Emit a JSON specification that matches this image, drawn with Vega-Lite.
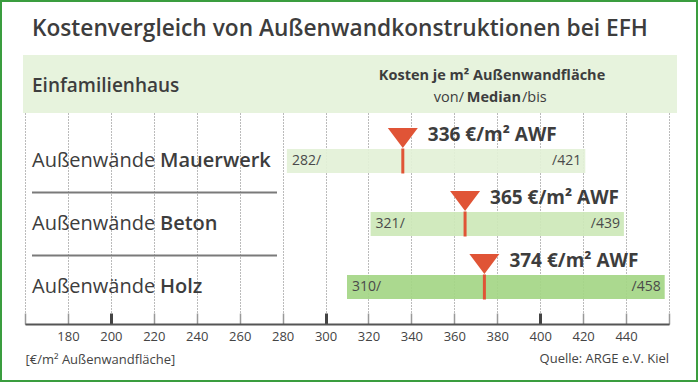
{
  "$schema": "https://vega.github.io/schema/vega-lite/v6.json",
  "width": 644,
  "height": 211,
  "autosize": {"type": "none"},
  "padding": {"left": 25, "top": 113, "right": 31, "bottom": 59},
  "background": "white",
  "config": {"view": {"stroke": null}, "font": "Open Sans", "text": {"color": "#3d3d3d"}},
  "data": {
    "values": [
      {"wall": "Mauerwerk", "von": 282, "median": 336, "bis": 421, "label": "336 €/m² AWF", "vonLabel": "282/", "bisLabel": "/421"},
      {"wall": "Beton", "von": 321, "median": 365, "bis": 439, "label": "365 €/m² AWF", "vonLabel": "321/", "bisLabel": "/439"},
      {"wall": "Holz", "von": 310, "median": 374, "bis": 458, "label": "374 €/m² AWF", "vonLabel": "310/", "bisLabel": "/458"}
    ]
  },
  "layer": [
    {
      "data": {"values": [{}]},
      "mark": {"type": "rect", "x": -24, "x2": 672, "y": -112, "y2": 268, "fill": null, "stroke": "#3a9d3f", "strokeWidth": 2},
      "encoding": {}
    },
    {
      "data": {"values": [{}]},
      "mark": {"type": "rect", "x": -2, "x2": 652, "y": -58, "y2": 0, "fill": "#e7f3dd"},
      "encoding": {}
    },
    {
      "mark": {"type": "bar", "height": 24, "opacity": 0.92},
      "encoding": {
        "y": {"field": "wall", "type": "nominal", "axis": null,
              "scale": {"domain": ["Mauerwerk", "Beton", "Holz"], "paddingInner": 0, "paddingOuter": 0.1746, "align": 0.75}},
        "x": {"field": "von", "type": "quantitative", "title": "[€/m² Außenwandfläche]",
              "scale": {"domain": [160, 460], "nice": false, "zero": false},
              "axis": {
                "titleFontSize": 13, "titleFontWeight": "normal", "titleColor": "#444",
                "titleAnchor": "start", "titleAlign": "left", "titleBaseline": "middle", "titleX": 0, "titleY": 35,
                "values": [160, 180, 200, 220, 240, 260, 280, 300, 320, 340, 360, 380, 400, 420, 440, 460],
                "labelExpr": "datum.value == 160 || datum.value == 460 ? '' : datum.label",
                "labelFontSize": 13, "labelColor": "#444", "labelPadding": 17,
                "domainColor": "#555", "domainWidth": 2,
                "tickSize": -11,
                "tickColor": {"condition": {"test": "datum.value % 100 === 0", "value": "#444"}, "value": "#999"},
                "tickWidth": {"condition": {"test": "datum.value % 100 === 0", "value": 3}, "value": 1.5},
                "grid": true, "gridDash": [1, 2], "gridColor": "#777", "gridWidth": 1
              }},
        "x2": {"field": "bis"},
        "color": {"field": "wall", "type": "nominal", "legend": null,
                  "scale": {"domain": ["Mauerwerk", "Beton", "Holz"], "range": ["#e3f1d7", "#cde8b9", "#a4d685"]}}
      }
    },
    {
      "transform": [{"filter": "datum.wall !== 'Holz'"}],
      "mark": {"type": "rule", "x": 7, "x2": 252, "color": "#7a7a7a", "strokeWidth": 2},
      "encoding": {"y": {"field": "wall", "type": "nominal", "bandPosition": 1}}
    },
    {
      "mark": {"type": "text", "x": 7, "align": "left", "baseline": "middle", "fontSize": 20, "text": "Außenwände"},
      "encoding": {"y": {"field": "wall", "type": "nominal"}}
    },
    {
      "mark": {"type": "text", "x": 135, "align": "left", "baseline": "middle", "fontSize": 20, "fontWeight": 600},
      "encoding": {"y": {"field": "wall", "type": "nominal"}, "text": {"field": "wall"}}
    },
    {
      "mark": {"type": "tick", "orient": "vertical", "size": 25, "thickness": 3, "color": "#e05436", "opacity": 1},
      "encoding": {"x": {"field": "median", "type": "quantitative", "title": "[€/m² Außenwandfläche]"}, "y": {"field": "wall", "type": "nominal"}}
    },
    {
      "mark": {"type": "point", "shape": "M-1,-0.667L1,-0.667L0,0.667Z", "size": 900, "filled": true, "opacity": 1, "color": "#e05436", "yOffset": -23},
      "encoding": {"x": {"field": "median", "type": "quantitative", "title": "[€/m² Außenwandfläche]"}, "y": {"field": "wall", "type": "nominal"}}
    },
    {
      "mark": {"type": "text", "align": "left", "baseline": "middle", "dx": 25, "dy": -26, "fontSize": 19, "fontWeight": "bold"},
      "encoding": {"x": {"field": "median", "type": "quantitative", "title": "[€/m² Außenwandfläche]"}, "y": {"field": "wall", "type": "nominal"}, "text": {"field": "label"}}
    },
    {
      "mark": {"type": "text", "align": "left", "baseline": "middle", "dx": 5, "fontSize": 14, "color": "#4a4a4a"},
      "encoding": {"x": {"field": "von", "type": "quantitative", "title": "[€/m² Außenwandfläche]"}, "y": {"field": "wall", "type": "nominal"}, "text": {"field": "vonLabel"}}
    },
    {
      "mark": {"type": "text", "align": "right", "baseline": "middle", "dx": -4, "fontSize": 14, "color": "#4a4a4a"},
      "encoding": {"x": {"field": "bis", "type": "quantitative", "title": "[€/m² Außenwandfläche]"}, "y": {"field": "wall", "type": "nominal"}, "text": {"field": "bisLabel"}}
    },
    {
      "data": {"values": [{}]},
      "mark": {"type": "text", "x": 7, "y": -77, "align": "left", "baseline": "alphabetic", "fontSize": 22.7, "fontWeight": 600, "text": "Kostenvergleich von Außenwandkonstruktionen bei EFH"},
      "encoding": {}
    },
    {
      "data": {"values": [{}]},
      "mark": {"type": "text", "x": 7, "y": -21, "align": "left", "baseline": "alphabetic", "fontSize": 19, "fontWeight": 600, "text": "Einfamilienhaus"},
      "encoding": {}
    },
    {
      "data": {"values": [{}]},
      "mark": {"type": "text", "x": 467, "y": -37, "align": "center", "baseline": "middle", "fontSize": 14.5, "fontWeight": "bold", "text": "Kosten je m² Außenwandfläche"},
      "encoding": {}
    },
    {
      "data": {"values": [{}]},
      "mark": {"type": "text", "x": 439, "y": -15, "align": "right", "baseline": "middle", "fontSize": 14.5, "text": "von/"},
      "encoding": {}
    },
    {
      "data": {"values": [{}]},
      "mark": {"type": "text", "x": 496, "y": -15, "align": "right", "baseline": "middle", "fontSize": 14.5, "fontWeight": "bold", "text": "Median"},
      "encoding": {}
    },
    {
      "data": {"values": [{}]},
      "mark": {"type": "text", "x": 497, "y": -15, "align": "left", "baseline": "middle", "fontSize": 14.5, "text": "/bis"},
      "encoding": {}
    },
    {
      "data": {"values": [{}]},
      "mark": {"type": "text", "y": 246, "align": "right", "baseline": "middle", "fontSize": 13, "color": "#444", "text": "Quelle: ARGE e.V. Kiel"},
      "encoding": {"x": {"datum": 460, "type": "quantitative", "title": "[€/m² Außenwandfläche]"}}
    }
  ]
}
